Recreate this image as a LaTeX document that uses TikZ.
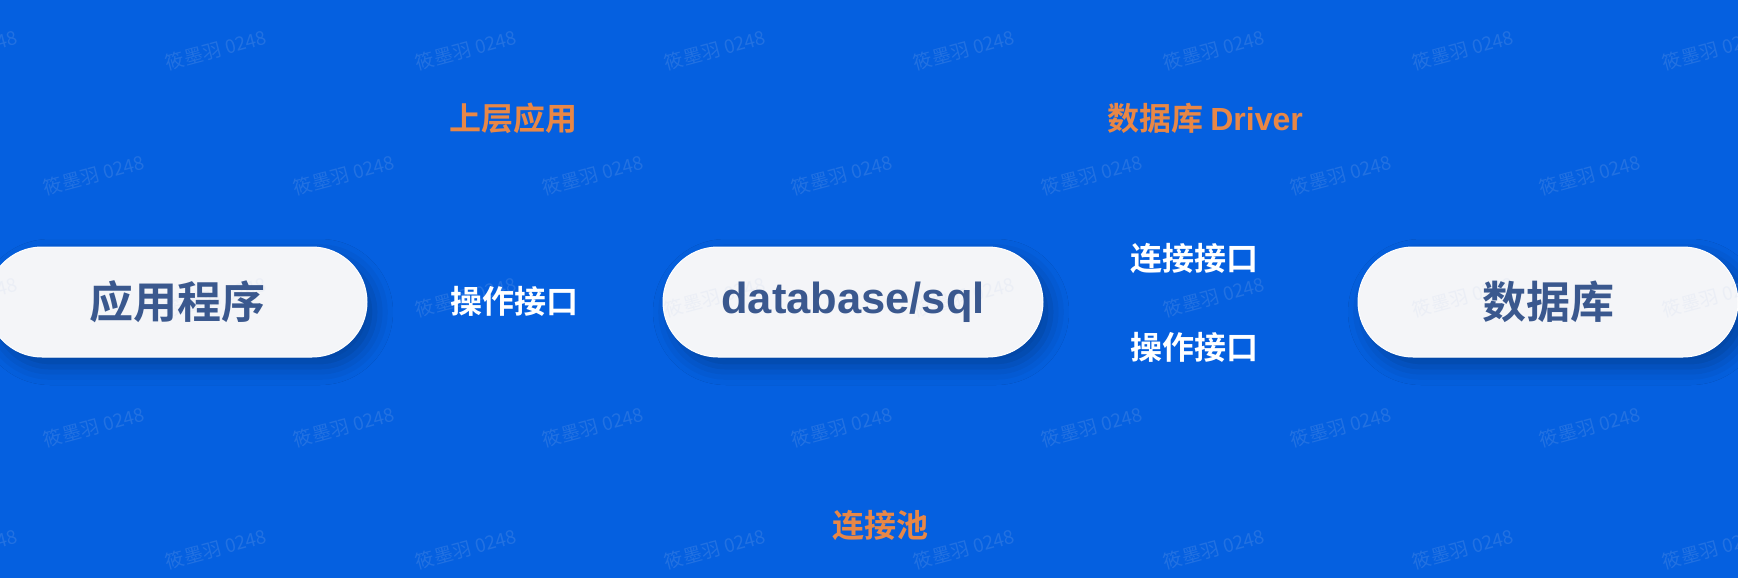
\documentclass[tikz,border=0pt]{standalone}
\usepackage{fontspec}
\setmainfont{Liberation Sans}
\newfontfamily\cjk{Noto Sans CJK SC}
\newfontfamily\cjkb{Noto Sans CJK SC Bold}
\newfontfamily\latb{Liberation Sans Bold}
\usetikzlibrary{shadows.blur}
\definecolor{bgblue}{RGB}{5,96,224}
\definecolor{pilltext}{RGB}{58,88,142}
\definecolor{labelorange}{RGB}{232,135,70}
\definecolor{pillfill}{RGB}{244,245,248}
\definecolor{wmcolor}{RGB}{190,205,235}
\tikzset{
  pill/.style={rectangle, rounded corners=55pt, minimum width=380pt, minimum height=110pt,
    fill=pillfill, draw=white, line width=1pt, text=pilltext, inner sep=0pt,
    blur shadow={shadow xshift=8pt, shadow yshift=-10pt, shadow blur radius=18pt, shadow opacity=30}},
  pillcjk/.style={font=\cjkb\fontsize{44pt}{50pt}\selectfont},
  pilllat/.style={font=\latb\fontsize{43.5pt}{50pt}\selectfont},
  whitelabel/.style={text=white, font=\cjkb\fontsize{32pt}{36pt}\selectfont, inner sep=0pt},
  orangelabel/.style={text=labelorange, font=\cjkb\fontsize{32pt}{36pt}\selectfont, inner sep=0pt},
  wmark/.style={text=wmcolor, text opacity=0.16, rotate=15, font=\cjk\fontsize{19pt}{22pt}\selectfont, inner sep=0pt}
}
\begin{document}
\begin{tikzpicture}[x=1pt,y=-1pt]
\useasboundingbox (0,0) rectangle (1738,578);
\fill[bgblue] (0,0) rectangle (1738,578);
% pills
\node[pill, pillcjk] (app) at (177,302) {};
\node[pill, pilllat] (sql) at (853,302) {};
\node[pill, pillcjk] (db) at (1548,302) {};
% watermarks
\foreach \r/\yy in {0/50,2/297,4/549}{
  \foreach \xx [count=\i] in {-33,216,466,715,964,1214,1463,1713}{
    \node[wmark] (wa\r\i) at (\xx,\yy) {筱墨羽 0248};
  }
}
\foreach \r/\yy in {1/175,3/427}{
  \foreach \xx [count=\i] in {94,344,593,842,1092,1341,1590}{
    \node[wmark] (wb\r\i) at (\xx,\yy) {筱墨羽 0248};
  }
}
% pill texts
\node[text=pilltext, pillcjk, inner sep=0pt] (apptext) at (app.center) {应用程序};
\node[text=pilltext, pilllat, inner sep=0pt] (sqltext) at (sql.center) {database/sql};
\node[text=pilltext, pillcjk, inner sep=0pt] (dbtext) at (db.center) {数据库};
% labels
\node[orangelabel] (upper) at (513,118) {上层应用};
\node[orangelabel] (driver) at (1205,118) {数据库 {\latb Driver}};
\node[whitelabel] (opleft) at (514,301) {操作接口};
\node[whitelabel] (conn) at (1194,258) {连接接口};
\node[whitelabel] (opright) at (1194,347) {操作接口};
\node[orangelabel] (pool) at (880,525) {连接池};
\end{tikzpicture}
\end{document}
